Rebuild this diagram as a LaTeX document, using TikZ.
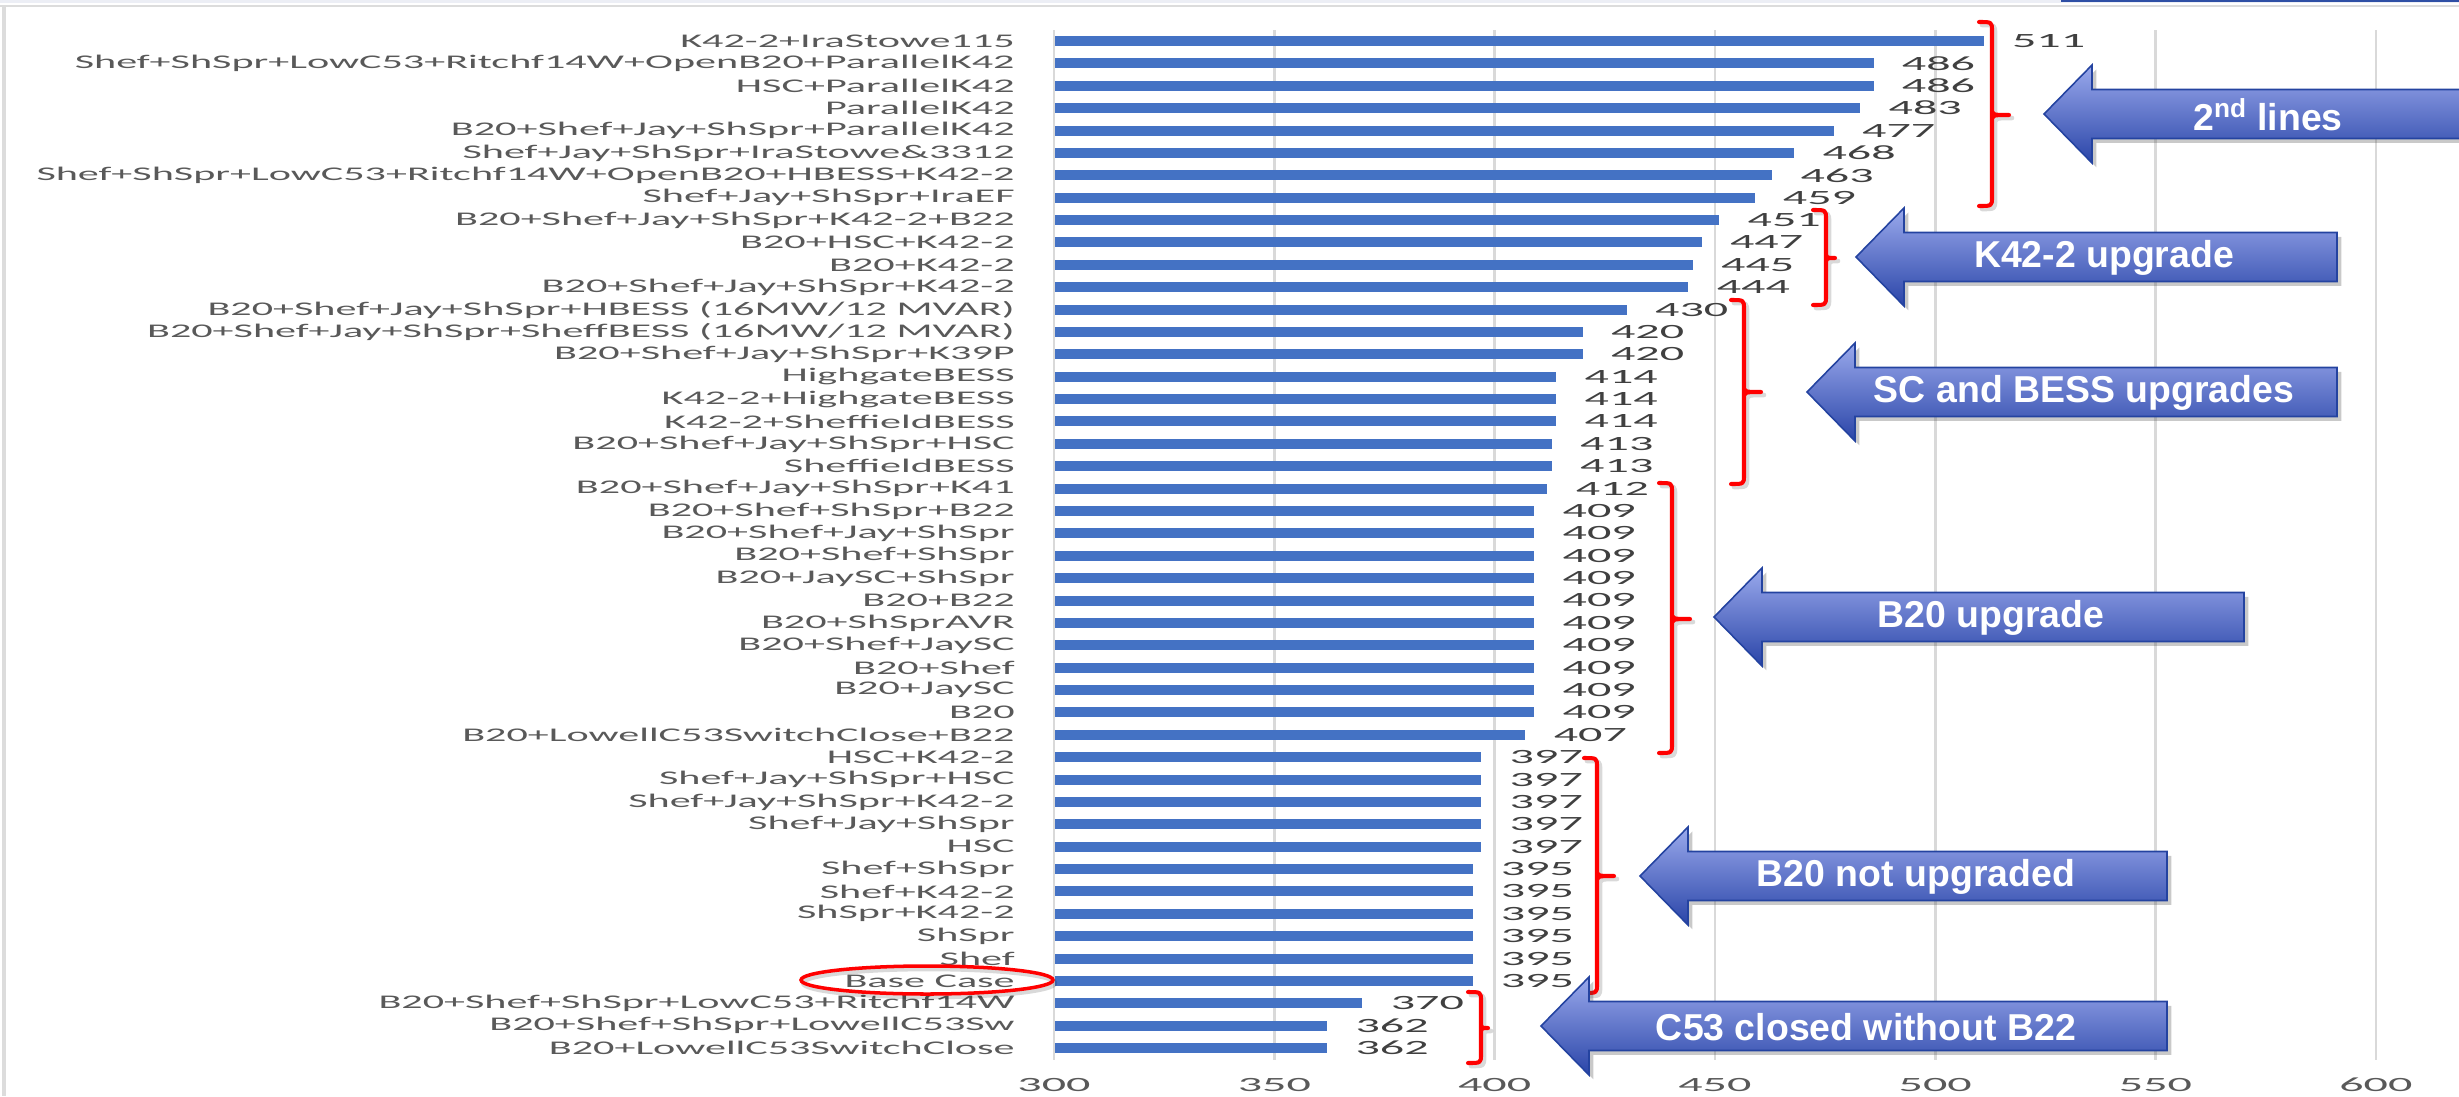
\documentclass[tikz,border=0pt]{standalone}
\usepackage{fontspec}
\usepackage{graphicx}
\setmainfont{Carlito}
\newfontfamily\arrowfont{Liberation Sans}
\usetikzlibrary{shadows}

\definecolor{barblue}{HTML}{4472C4}
\definecolor{gridgray}{HTML}{D9D9D9}
\definecolor{framegray}{HTML}{DCDCDC}
\definecolor{stripgray}{HTML}{ECEEF5}
\definecolor{topblue}{HTML}{2F4FA5}
\definecolor{labelgray}{HTML}{595959}
\definecolor{valgray}{HTML}{404040}
\definecolor{arrowtop}{HTML}{9AA9EC}
\definecolor{arrowbot}{HTML}{2A45A8}
\definecolor{arrowedge}{HTML}{2443A0}
\definecolor{bracered}{HTML}{FF0000}

% horizontally widened text, as in the chart
\newcommand\widelab[1]{\scalebox{2.18}[1]{#1}}
\newcommand\widenum[1]{\scalebox{2.38}[1]{#1}}

% bracket outline, drawn once as a soft shadow and once in red
\newcommand\bracepath[5]{%
  (#1-13,#2) .. controls (#1,#2) .. (#1,#2+9) -- (#1,#3-9) .. controls (#1,#3) .. (#1-13,#3)
  (#1,#4-7) .. controls (#1,#4) .. (#1+#5,#4)
  (#1,#4+7) .. controls (#1,#4) .. (#1+#5,#4)}
% right-hand red bracket: x, top, bottom, middle, nub length
\newcommand\redbrace[5]{%
  \draw[braceshadow] \bracepath{#1+3}{#2+3}{#3+3}{#4+3}{#5};
  \draw[bracestyle] \bracepath{#1}{#2}{#3}{#4}{#5};
}

% left-pointing block arrow: name, tip x, tip y, right end x, text x, text
\newcommand\leftblock[6]{%
  \path[blockarrow] (#2,#3) -- (#2+48,#3-49) -- (#2+48,#3-24.5) -- (#4,#3-24.5)
     -- (#4,#3+24.5) -- (#2+48,#3+24.5) -- (#2+48,#3+49) -- cycle;
  \node[arrowtext] (#1) at (#5,#3+1) {#6};
}

\begin{document}
\begin{tikzpicture}[x=0.02cm, y=-0.02cm,
  catlabel/.style={anchor=east, inner sep=0pt, text=labelgray, font=\fontsize{11}{13}\selectfont},
  vallabel/.style={anchor=west, inner sep=0pt, text=valgray, font=\fontsize{11.5}{13}\selectfont},
  ticklabel/.style={anchor=center, inner sep=0pt, text=labelgray, font=\fontsize{11.5}{13}\selectfont},
  gridline/.style={draw=gridgray, line width=1.5pt},
  bracestyle/.style={draw=bracered, line width=2.3pt, line cap=round, line join=round},
  braceshadow/.style={draw=black, opacity=0.15, line width=2.6pt, line cap=round, line join=round},
  blockarrow/.style={top color=arrowtop, bottom color=arrowbot, draw=arrowedge, line width=0.9pt,
     drop shadow={shadow xshift=2.5pt, shadow yshift=-2.5pt, opacity=0.3, fill=black!70}},
  arrowtext/.style={text=white, inner sep=0pt, font=\arrowfont\bfseries\fontsize{21.3}{24}\selectfont},
]
\useasboundingbox (0,0) rectangle (2459,1096);

% frame
\fill[stripgray] (0,0) rectangle (2459,3);
\draw[framegray, line width=1.2pt] (0,6) -- (2459,6);
\draw[framegray, line width=2.3pt] (4,6) -- (4,1096);
\draw[topblue, line width=1.3pt] (2061,1) -- (2459,1);

% value gridlines and axis numbers
\foreach \v in {300,350,...,600}{
  \pgfmathsetmacro\gx{1054+(\v-300)*4.406}
  \draw[gridline] (\gx,30) -- (\gx,1060);
  \node[ticklabel] (tick\v) at (\gx,1085) {\widenum{\v}};
}

% bars, categories and values
\foreach \i/\lab/\val in {
  1/K42-2+IraStowe115/511,
  2/Shef+ShSpr+LowC53+Ritchf14W+OpenB20+ParallelK42/486,
  3/HSC+ParallelK42/486,
  4/ParallelK42/483,
  5/B20+Shef+Jay+ShSpr+ParallelK42/477,
  6/Shef+Jay+ShSpr+IraStowe\&3312/468,
  7/Shef+ShSpr+LowC53+Ritchf14W+OpenB20+HBESS+K42-2/463,
  8/Shef+Jay+ShSpr+IraEF/459,
  9/B20+Shef+Jay+ShSpr+K42-2+B22/451,
  10/B20+HSC+K42-2/447,
  11/B20+K42-2/445,
  12/B20+Shef+Jay+ShSpr+K42-2/444,
  13/{B20+Shef+Jay+ShSpr+HBESS (16MW/12 MVAR)}/430,
  14/{B20+Shef+Jay+ShSpr+SheffBESS (16MW/12 MVAR)}/420,
  15/B20+Shef+Jay+ShSpr+K39P/420,
  16/HighgateBESS/414,
  17/K42-2+HighgateBESS/414,
  18/K42-2+SheffieldBESS/414,
  19/B20+Shef+Jay+ShSpr+HSC/413,
  20/SheffieldBESS/413,
  21/B20+Shef+Jay+ShSpr+K41/412,
  22/B20+Shef+ShSpr+B22/409,
  23/B20+Shef+Jay+ShSpr/409,
  24/B20+Shef+ShSpr/409,
  25/B20+JaySC+ShSpr/409,
  26/B20+B22/409,
  27/B20+ShSprAVR/409,
  28/B20+Shef+JaySC/409,
  29/B20+Shef/409,
  30/B20+JaySC/409,
  31/B20/409,
  32/B20+LowellC53SwitchClose+B22/407,
  33/HSC+K42-2/397,
  34/Shef+Jay+ShSpr+HSC/397,
  35/Shef+Jay+ShSpr+K42-2/397,
  36/Shef+Jay+ShSpr/397,
  37/HSC/397,
  38/Shef+ShSpr/395,
  39/Shef+K42-2/395,
  40/ShSpr+K42-2/395,
  41/ShSpr/395,
  42/Shef/395,
  43/Base Case/395,
  44/B20+Shef+ShSpr+LowC53+Ritchf14W/370,
  45/B20+Shef+ShSpr+LowellC53Sw/362,
  46/B20+LowellC53SwitchClose/362}{
  \pgfmathsetmacro\yy{41+(\i-1)*22.38}
  \pgfmathsetmacro\xx{1054+(\val-300)*4.406}
  \fill[barblue] (1055,\yy-5) rectangle (\xx,\yy+5);
  \node[catlabel] (lab\i) at (1015,\yy) {\widelab{\lab}};
  \node[vallabel] (val\i) at (\xx+28,\yy) {\widenum{\val}};
}

% base case marker
\draw[braceshadow] (929,983) ellipse [x radius=126, y radius=14];
\draw[bracered, line width=2pt] (927,980) ellipse [x radius=126, y radius=14];

% group brackets
\redbrace{1992}{22}{206}{115}{17}
\redbrace{1826}{210}{305}{258}{9}
\redbrace{1744}{300}{484}{392}{17}
\redbrace{1672}{483}{753}{619}{18}
\redbrace{1597}{758}{993}{876}{17}
\redbrace{1481}{992}{1063}{1028}{7}

% group call-outs
\leftblock{second}{2044}{114}{2480}{2268}{2\textsuperscript{nd} lines}
\leftblock{kupg}{1856}{257}{2337}{2104}{K42-2 upgrade}
\leftblock{scbess}{1807}{392}{2337}{2084}{SC and BESS upgrades}
\leftblock{bupg}{1714}{617}{2244}{1991}{B20 upgrade}
\leftblock{bnot}{1640}{876}{2167}{1916}{B20 not upgraded}
\leftblock{cclosed}{1541}{1026}{2167}{1866}{C53 closed without B22}
\end{tikzpicture}
\end{document}
